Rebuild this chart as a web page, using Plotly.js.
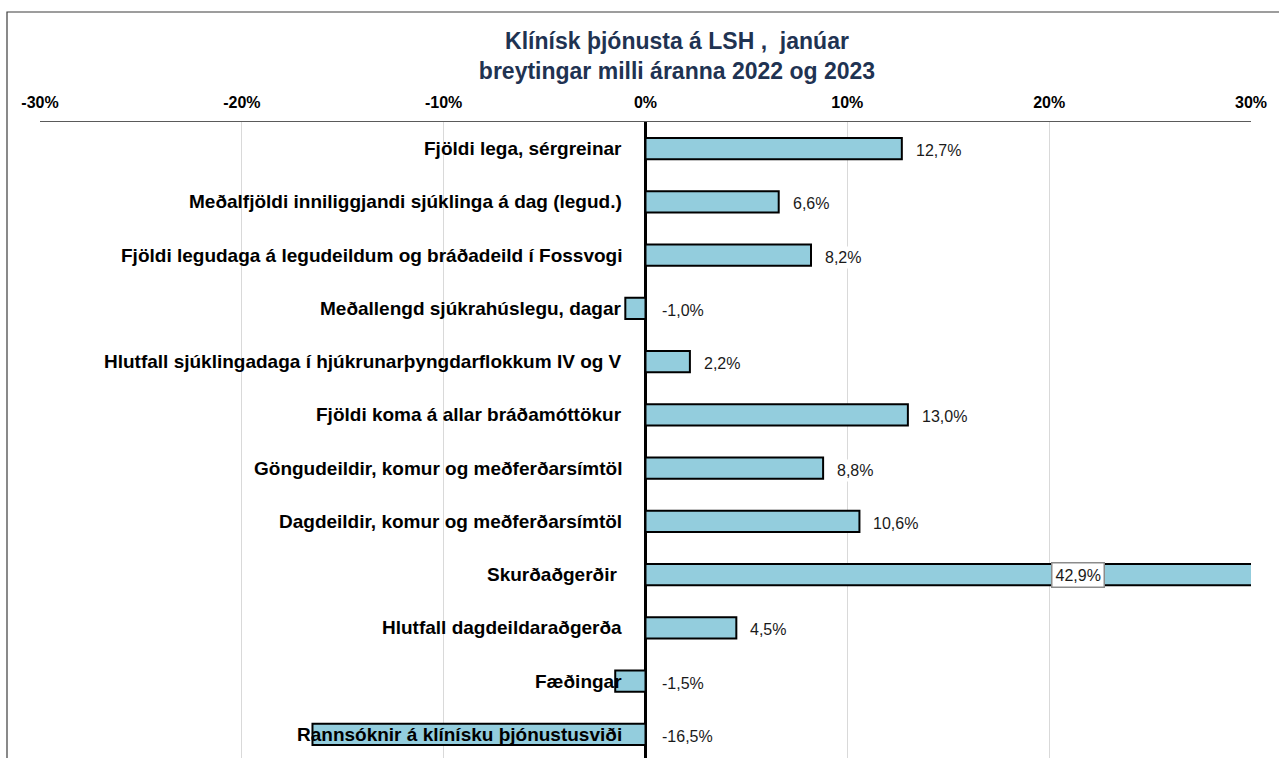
<!DOCTYPE html>
<html>
<head>
<meta charset="utf-8">
<script src="https://cdn.plot.ly/plotly-3.0.1.min.js"></script>
<style>
html,body{margin:0;padding:0;background:#fff;overflow:hidden;}
#chart{width:1279px;height:758px;}
</style>
</head>
<body>
<div id="chart"></div>
<script>
const categories = [
  "Fjöldi lega, sérgreinar",
  "Meðalfjöldi inniliggjandi sjúklinga á dag (legud.)",
  "Fjöldi legudaga á legudeildum og bráðadeild í Fossvogi",
  "Meðallengd sjúkrahúslegu, dagar",
  "Hlutfall sjúklingadaga í hjúkrunarþyngdarflokkum IV og V",
  "Fjöldi koma á allar bráðamóttökur",
  "Göngudeildir, komur og meðferðarsímtöl",
  "Dagdeildir, komur og meðferðarsímtöl",
  "Skurðaðgerðir ",
  "Hlutfall dagdeildaraðgerða",
  "Fæðingar",
  "Rannsóknir á klínísku þjónustusviði"
];
const values = [12.7, 6.6, 8.2, -1.0, 2.2, 13.0, 8.8, 10.6, 42.9, 4.5, -1.5, -16.5];
const tickValues = [-30, -20, -10, 0, 10, 20, 30];
const tickLabels = ["-30%", "-20%", "-10%", "0%", "10%", "20%", "30%"];
const titleLines = ["Klínísk þjónusta á LSH ,  janúar", "breytingar milli áranna 2022 og 2023"];

const xMin = -30, xMax = 30;
const fmt = v => v.toFixed(1).replace('.', ',') + '%';

const FONT = "Liberation Sans, Arial, sans-serif";

const trace = {
  type: 'bar',
  orientation: 'h',
  y: categories,
  x: values,
  width: 0.4,
  marker: {color: '#93CDDD', line: {color: '#000000', width: 2}},
  hoverinfo: 'skip',
  cliponaxis: true
};

const annotations = [];
categories.forEach((c, i) => {
  annotations.push({
    x: 0, y: c, xref: 'x', yref: 'y',
    text: c,
    showarrow: false, xanchor: 'right', yanchor: 'middle',
    xshift: -22,
    font: {family: FONT, size: 19, color: '#000000', weight: 'bold'}
  });
  const v = values[i];
  if (v > xMax) {
    annotations.push({
      x: xMax * 0.715, y: c, xref: 'x', yref: 'y',
      text: fmt(v), showarrow: false, xanchor: 'center', yanchor: 'middle',
      bgcolor: '#ffffff', bordercolor: '#8c8c8c', borderwidth: 1.5, borderpad: 3,
      font: {family: FONT, size: 16, color: '#1a1a1a'}
    });
  } else {
    annotations.push({
      x: Math.max(v, 0), y: c, xref: 'x', yref: 'y',
      text: fmt(v), showarrow: false, xanchor: 'left', yanchor: 'middle',
      xshift: v < 0 ? 13 : 11, yshift: -2,
      bgcolor: '#ffffff', borderpad: 2,
      font: {family: FONT, size: 16, color: '#1a1a1a'}
    });
  }
});

const layout = {
  width: 1279, height: 758,
  margin: {l: 40, r: 28, t: 122, b: 0, pad: 0},
  paper_bgcolor: '#ffffff', plot_bgcolor: '#ffffff',
  showlegend: false,
  title: {
    text: titleLines.join('<br>'),
    font: {family: FONT, size: 23, color: '#1F3352', weight: 'bold'},
    xref: 'paper', x: (677 - 40) / 1211, xanchor: 'center',
    yref: 'container', y: 1 - 49 / 758, yanchor: 'top'
  },
  xaxis: {
    range: [xMin, xMax], side: 'top',
    tickvals: tickValues,
    ticktext: tickLabels,
    tickfont: {family: FONT, size: 16, color: '#000000', weight: 'bold'},
    ticks: '', ticklabelstandoff: 6,
    showgrid: true, gridcolor: '#d9d9d9', gridwidth: 1,
    zeroline: true, zerolinecolor: '#000000', zerolinewidth: 3,
    showline: true, linecolor: '#5a5a5a', linewidth: 1.5,
    fixedrange: true
  },
  yaxis: {
    type: 'category',
    range: [11.444, -0.5],
    showticklabels: false, showgrid: false, zeroline: false, showline: false,
    ticks: '', fixedrange: true
  },
  annotations: annotations,
  shapes: [{
    type: 'rect', xref: 'paper', yref: 'paper',
    x0: (7 - 40) / 1211, x1: 1.2,
    y0: -0.2, y1: 1 + (122 - 12) / 636,
    line: {color: '#3c3c3c', width: 1.2}, fillcolor: 'rgba(0,0,0,0)', layer: 'below'
  }]
};

Plotly.newPlot('chart', [trace], layout, {displayModeBar: false, staticPlot: true});
</script>
</body>
</html>
